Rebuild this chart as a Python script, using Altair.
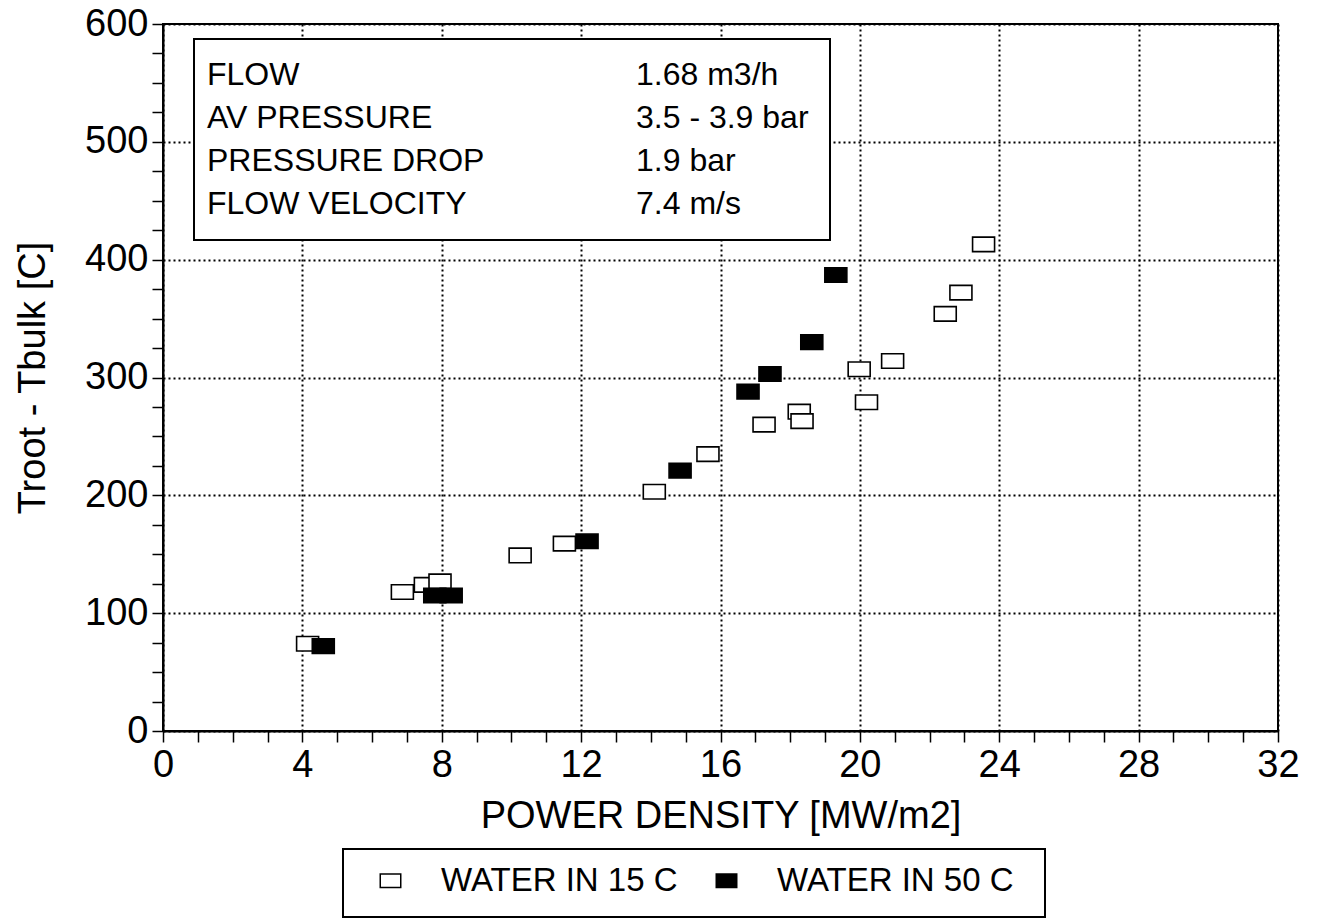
import altair as alt
import pandas as pd

# ---- data ----
series = ["WATER IN 15 C", "WATER IN 50 C"]
x_15 = [4.15, 6.87, 7.53, 7.95, 10.25, 11.52, 14.10, 15.64, 17.25, 18.26, 18.34, 19.98, 20.19, 20.94, 22.45, 22.90, 23.55]
y_15 = [74, 118, 124, 127, 149, 159, 203, 235, 260, 271, 263, 307, 279, 314, 354, 372, 413]
x_50 = [4.60, 7.80, 8.27, 12.17, 14.84, 16.79, 17.42, 18.62, 19.31]
y_50 = [72, 115, 115, 161, 221, 288, 303, 330, 387]
info_labels = ["FLOW", "AV PRESSURE", "PRESSURE DROP", "FLOW VELOCITY"]
info_values = ["1.68 m3/h", "3.5 - 3.9 bar", "1.9 bar", "7.4 m/s"]
x_ticks = list(range(0, 33))
y_ticks = list(range(0, 601, 25))

df = pd.DataFrame({
    "pd": x_15 + x_50,
    "dt": y_15 + y_50,
    "series": [series[0]] * len(x_15) + [series[1]] * len(x_50),
})

FONT = "Liberation Sans"
RECT = "M-1,-0.66L1,-0.66L1,0.66L-1,0.66Z"
W, H = 1115, 707

points = alt.Chart(df).mark_point(
    shape=RECT, size=484, filled=True, stroke="black", strokeWidth=1.6, opacity=1
).encode(
    x=alt.X("pd:Q", scale=alt.Scale(domain=[0, 32], nice=False, zero=False),
            axis=alt.Axis(values=x_ticks, title="POWER DENSITY [MW/m2]",
                          labelExpr="datum.value % 4 === 0 ? datum.label : ''",
                          gridOpacity={"condition": {"test": "datum.value % 4 === 0", "value": 1}, "value": 0},
                          labelOverlap=False, labelFlush=False, labelPadding=4, titlePadding=13)),
    y=alt.Y("dt:Q", scale=alt.Scale(domain=[0, 600], nice=False),
            axis=alt.Axis(values=y_ticks, title="Troot - Tbulk [C]",
                          labelExpr="datum.value % 100 === 0 ? datum.label : ''",
                          gridOpacity={"condition": {"test": "datum.value % 100 === 0", "value": 1}, "value": 0},
                          labelOverlap=False, labelFlush=False, labelPadding=4, titlePadding=32)),
    fill=alt.Fill("series:N", scale=alt.Scale(domain=series, range=["white", "black"]),
                  legend=alt.Legend(orient="none", legendX=211, legendY=840, direction="horizontal",
                                    title=None, labelFontSize=33, labelFont=FONT, labelColor="black",
                                    symbolType=RECT, symbolSize=420, symbolStrokeColor="black",
                                    symbolStrokeWidth=1.5, padding=0,
                                    labelOffset=34, columnPadding=32, labelLimit=400)),
)

one = pd.DataFrame({"a": [0]})
info_box = alt.Chart(one).mark_rect(fill="white", stroke="black", strokeWidth=2).encode(
    x=alt.value(31), x2=alt.value(667), y=alt.value(15), y2=alt.value(216)
)
legend_box = alt.Chart(one).mark_rect(fill="white", stroke="black", strokeWidth=2).encode(
    x=alt.value(180), x2=alt.value(882), y=alt.value(825), y2=alt.value(893)
)

layers = [legend_box, info_box]
for i, (lab, val) in enumerate(zip(info_labels, info_values)):
    yy = 51 + i * 43
    layers.append(alt.Chart(one).mark_text(align="left", baseline="middle", font=FONT, fontSize=32, color="black")
                  .encode(x=alt.value(44), y=alt.value(yy), text=alt.value(lab)))
    layers.append(alt.Chart(one).mark_text(align="left", baseline="middle", font=FONT, fontSize=32, color="black")
                  .encode(x=alt.value(473), y=alt.value(yy), text=alt.value(val)))

chart = alt.layer(points, *layers).properties(
    width=W, height=H,
    autosize=alt.AutoSizeParams(type="none"),
    padding={"left": 163, "top": 24, "right": 1322 - 163 - W, "bottom": 920 - 24 - H},
    background="white",
).configure_view(stroke="black", strokeWidth=2).configure_axis(
    domainColor="black", domainWidth=2, tickColor="black", tickWidth=1.5, tickSize=11,
    gridColor="black", gridDash=[2, 3], gridWidth=2,
    labelFont=FONT, labelFontSize=38, labelColor="black",
    titleFont=FONT, titleFontSize=38, titleFontWeight="normal", titleColor="black",
)

chart.save("out.html", embed_options={"renderer": "svg", "actions": False})
